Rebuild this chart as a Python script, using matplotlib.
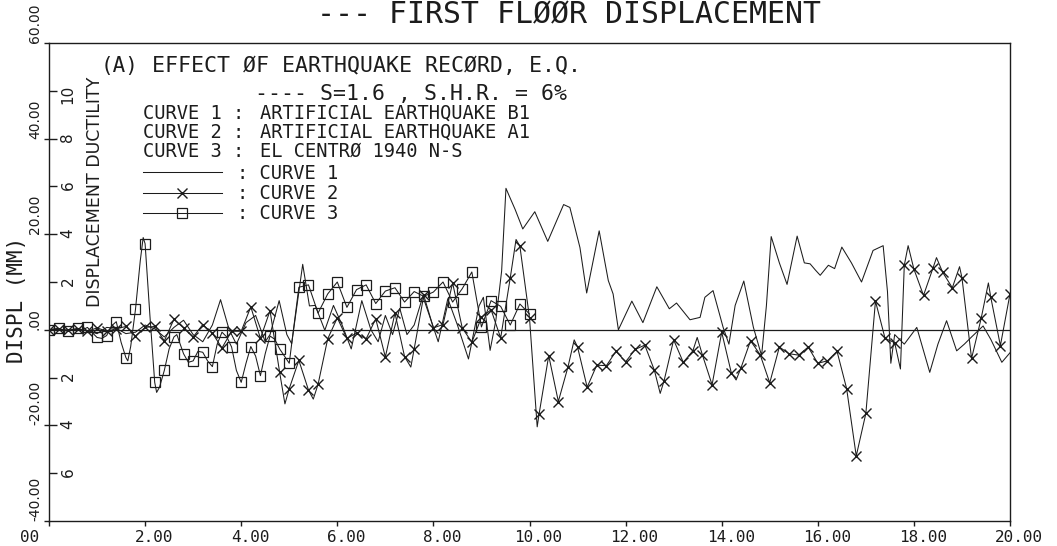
import numpy as np
import matplotlib
matplotlib.use("Agg")
import matplotlib.pyplot as plt
from matplotlib.transforms import ScaledTranslation

W, H = 1057, 546
INK = "#1c1c1c"
MONO = "DejaVu Sans Mono"

# ---- curve 1 : artificial earthquake B1 (time s, displacement mm)
t_b1 = [0.0, 0.2, 0.4, 0.6, 0.8, 1.0, 1.2, 1.4, 1.6, 1.8, 2.0, 2.2, 2.4, 2.6, 2.8,
        3.0, 3.2, 3.4, 3.57, 3.75, 3.9, 4.1, 4.3, 4.5, 4.6, 4.79, 4.95, 5.05, 5.28,
        5.42, 5.54, 5.74, 5.92, 6.1, 6.29, 6.51, 6.7, 6.85, 7.0, 7.15, 7.3, 7.45,
        7.6, 7.78, 7.95, 8.1, 8.3, 8.5, 8.73, 8.95, 9.04, 9.18, 9.3, 9.42, 9.51,
        9.6, 9.7, 9.86, 10.11,
        10.38, 10.71, 10.84, 11.05, 11.19, 11.45, 11.57, 11.64, 11.74, 11.85,
        12.13, 12.36, 12.65, 12.91, 13.06, 13.34, 13.55, 13.65, 13.82, 14.03,
        14.15, 14.28, 14.46, 14.66, 14.83, 14.93, 15.03, 15.2, 15.36, 15.57,
        15.72, 15.84, 15.95, 16.05, 16.22, 16.35, 16.5, 16.7, 16.91, 17.15,
        17.36, 17.45, 17.52, 17.6, 17.8, 18.06, 18.33, 18.5, 18.68, 18.89,
        19.05, 19.21, 19.44, 19.6, 19.83, 20.0]
d_b1 = [0.0, 0.1, -0.1, 0.1, -0.2, -0.8, 0.5, 0.3, -0.8, -0.5, 1.0, 0.2, -1.5, 0.5, 2.0,
        -1.0, -2.5, 1.0, 6.3, 0.0, -3.0, 1.5, 3.0, -2.5, -1.0, 6.1, -1.0, -2.9, 13.7,
        5.0, 5.1, -0.1, 5.1, 1.0, -4.0, 6.1, 0.0, -2.5, 3.0, -1.0, 4.5, -1.0,
        1.0, 7.0, 2.0, -2.5, 6.5, 1.0, -6.1, 5.0, 6.8, -4.3, 2.0, 12.3, 29.6,
        27.5, 25.2, 21.1, 24.7,
        18.5, 26.2, 25.6, 17.2, 7.7, 20.7, 14.1, 10.3, 7.5, 0.0,
        6.0, 1.5, 9.0, 4.4, 5.6, 2.1, 2.6, 6.8, 8.2, 0.5,
        -3.0, 5.1, 10.2, 0.5, -5.4, 5.0, 19.5, 14.0, 9.5, 19.6,
        14.0, 13.8, 12.5, 11.4, 13.5, 12.8, 17.3, 14.0, 10.0, 16.6,
        17.6, 8.0, -7.0, -1.0, -3.0, 0.5, -8.9, -3.0, 1.9, -4.4,
        -3.0, -1.4, 0.8, -2.0, -6.8, -4.8]

# ---- curve 2 : artificial earthquake A1
t_a1 = [0.0, 0.2, 0.4, 0.6, 0.8, 1.0, 1.2, 1.4, 1.6, 1.8, 2.0, 2.2, 2.4, 2.6, 2.8,
        3.0, 3.2, 3.4, 3.6, 3.8, 4.0, 4.2, 4.4, 4.6, 4.8, 4.91, 5.0, 5.2, 5.4,
        5.5, 5.6, 5.8, 6.0, 6.2, 6.4, 6.6, 6.8, 7.0, 7.2, 7.4, 7.53, 7.6, 7.8,
        8.0, 8.2, 8.4, 8.6, 8.8, 9.0, 9.2, 9.4, 9.6, 9.72, 9.8, 10.0, 10.16,
        10.2, 10.4, 10.6, 10.8, 10.93, 11.0, 11.2, 11.4, 11.6, 11.8, 12.0, 12.2,
        12.4, 12.6, 12.72, 12.8, 13.0, 13.2, 13.4, 13.49, 13.6, 13.8, 14.0, 14.2,
        14.3, 14.4, 14.6, 14.8, 15.0, 15.2, 15.4, 15.6, 15.8, 16.0, 16.2, 16.4,
        16.6, 16.8, 17.0, 17.2, 17.4, 17.6, 17.72, 17.8, 17.88, 18.0, 18.2, 18.4,
        18.47, 18.6, 18.8, 18.95, 19.0, 19.2, 19.4, 19.55, 19.6, 19.8, 20.0]
d_a1 = [0.0, 0.1, -0.1, 0.2, -0.3, 0.4, -0.3, 0.2, 0.7, -1.3, 0.5, 0.7, -2.3, 2.2, 0.4,
        -1.5, 1.1, -0.7, -3.8, -0.3, -0.3, 4.8, -1.8, 4.0, -8.9, -15.5, -12.3, -6.4, -12.6,
        -14.5, -11.4, -1.9, 2.5, -1.8, -0.7, -1.9, 2.3, -5.7, 3.5, -5.6, -7.8, -4.0, 7.2,
        0.4, 1.1, 9.8, 0.4, -2.6, 2.6, 4.2, -1.7, 10.9, 18.9, 17.5, 2.5, -20.3,
        -17.6, -5.4, -15.0, -7.8, -2.1, -3.6, -12.0, -7.4, -7.5, -4.5, -6.7, -4.1,
        -3.2, -8.5, -13.3, -10.7, -2.1, -6.8, -4.4, -1.6, -5.3, -11.5, -0.5, -9.0,
        -10.5, -8.0, -2.3, -5.2, -11.1, -3.6, -5.0, -5.3, -3.6, -7.0, -6.5, -4.5,
        -12.3, -26.4, -17.5, 6.0, -1.8, -2.7, -8.2, 13.5, 17.6, 12.7, 7.2, 13.0,
        15.1, 12.0, 8.8, 13.2, 10.9, -6.0, 2.4, 9.8, 6.8, -3.3, 7.5]

# ---- curve 3 : El Centro 1940 N-S
t_ec = [0.0, 0.1, 0.2, 0.3, 0.4, 0.5, 0.6, 0.7, 0.8, 0.9, 1.0, 1.1, 1.2, 1.3, 1.4,
        1.5, 1.6, 1.64, 1.7, 1.8, 1.9, 1.96, 2.0, 2.1, 2.2, 2.24, 2.3, 2.4, 2.5,
        2.6, 2.66, 2.8, 2.9, 3.0, 3.1, 3.2, 3.3, 3.4, 3.5, 3.6, 3.7, 3.8, 3.9,
        4.0, 4.1, 4.2, 4.3, 4.4, 4.5, 4.6, 4.7, 4.8, 4.9, 5.0, 5.1, 5.2,
        5.4, 5.6, 5.8, 6.0, 6.2, 6.4, 6.6, 6.8, 7.0, 7.2, 7.4, 7.6, 7.8, 8.0,
        8.2, 8.4, 8.6, 8.8, 9.0, 9.2, 9.4, 9.6, 9.8, 10.0]
d_ec = [0.0, 0.2, 0.3, -0.1, -0.3, 0.1, 0.3, 0.0, 0.5, -0.6, -1.6, -1.8, -1.2, 0.8, 1.7,
        -2.6, -5.8, -6.5, -3.5, 4.3, 14.5, 19.3, 18.0, 3.0, -11.0, -13.1, -12.0, -8.5, -4.0,
        -1.5, -1.0, -5.0, -6.8, -6.5, -4.5, -4.7, -6.5, -7.7, -3.0, -0.5, -1.5, -3.6, -8.5,
        -11.0, -7.0, -3.5, -5.5, -9.6, -5.0, -1.3, -2.0, -4.0, -5.5, -7.0, 1.0, 8.9,
        9.4, 3.5, 7.5, 10.0, 4.7, 8.4, 9.4, 5.5, 8.1, 8.8, 5.8, 8.0, 7.0, 7.9,
        10.0, 5.8, 8.6, 12.1, 0.6, 6.1, 4.9, 1.0, 5.4, 3.3]

x_ticks = [0, 2, 4, 6, 8, 10, 12, 14, 16, 18, 20]
x_tick_labels = ["00", "2.00", "4.00", "6.00", "8.00", "10.00",
                 "12.00", "14.00", "16.00", "18.00", "20.00"]
y_ticks = [-40, -20, 0, 20, 40, 60]
y_tick_labels = ["-40.00", "-20.00", ".00", "20.00", "40.00", "60.00"]
duct_ticks = [-6, -4, -2, 2, 4, 6, 8, 10]
duct_labels = ["6", "4", "2", "2", "4", "6", "8", "10"]
MM_PER_DUCTILITY = 5.0
MARK_STEP = 0.2


def grid_marks(ts, step=MARK_STEP):
    return [i for i, t in enumerate(ts) if abs(t / step - round(t / step)) < 1e-6]


def fx(px):
    return px / W


def fy(py):
    return 1 - py / H


fig = plt.figure(figsize=(W / 100, H / 100), dpi=100)
ax = fig.add_axes([fx(49), fy(521), (1010 - 49) / W, (521 - 43) / H])
ax.set_xlim(0, 20)
ax.set_ylim(-40, 60)

ax.axhline(0, color=INK, lw=0.9, zorder=1)

l1, = ax.plot(t_b1, d_b1, color=INK, lw=0.75, zorder=3)
l2, = ax.plot(t_a1, d_a1, color=INK, lw=0.75, marker="x", ms=6.5, mew=1.0,
              markevery=grid_marks(t_a1), zorder=3)
l3, = ax.plot(t_ec, d_ec, color=INK, lw=0.75, marker="s", ms=7, mew=0.9,
              mfc="none", markevery=grid_marks(t_ec), zorder=3)

for s in ax.spines.values():
    s.set_color(INK)
    s.set_linewidth(1.0)

ax.set_xticks(x_ticks, labels=x_tick_labels)
ax.set_yticks(y_ticks, labels=y_tick_labels)
ax.tick_params(axis="x", direction="out", length=3.6, width=1, colors=INK,
               labelsize=11.5, pad=3)
ax.tick_params(axis="y", direction="out", length=3.6, width=1, colors=INK,
               labelsize=10, pad=1.5, labelrotation=90)
for lab in ax.get_xticklabels():
    lab.set_family(MONO)
for i, lab in enumerate(ax.get_xticklabels()):
    dx = -19 if i == 0 else 9
    lab.set_transform(lab.get_transform() + ScaledTranslation(dx / 100, 0, fig.dpi_scale_trans))
for lab in ax.get_yticklabels():
    lab.set_family("DejaVu Sans")
    lab.set_va("bottom")

# displacement ductility scale, drawn inside the left spine
sec = ax.secondary_yaxis("left", functions=(lambda y: y / MM_PER_DUCTILITY,
                                            lambda d: d * MM_PER_DUCTILITY))
sec.set_yticks(duct_ticks, labels=duct_labels)
sec.tick_params(direction="in", length=6, width=1, colors=INK, labelsize=11,
                pad=-19, labelrotation=90)
sec.spines["left"].set_visible(False)

fig.text(fx(17), fy(300), "DISPL (MM)", rotation=90, ha="center", va="center",
         family=MONO, fontsize=15, color=INK)
fig.text(fx(95), fy(192), "DISPLACEMENT DUCTILITY", rotation=90, ha="center",
         va="center", family="DejaVu Sans", fontsize=12.5, color=INK)

fig.text(fx(569), fy(23), "--- FIRST FLØØR DISPLACEMENT", ha="center", va="baseline",
         family=MONO, fontsize=21.5, color=INK)
fig.text(fx(101), fy(72), "(A)", ha="left", va="baseline", family=MONO,
         fontsize=15, color=INK)
fig.text(fx(152), fy(72), "EFFECT ØF EARTHQUAKE RECØRD, E.Q.", ha="left",
         va="baseline", family=MONO, fontsize=15.5, color=INK)
fig.text(fx(255), fy(100), "---- S=1.6 , S.H.R. = 6%", ha="left", va="baseline",
         family=MONO, fontsize=15.5, color=INK)

rows = [("CURVE 1 :", "ARTIFICIAL EARTHQUAKE B1", 119),
        ("CURVE 2 :", "ARTIFICIAL EARTHQUAKE A1", 138),
        ("CURVE 3 :", "EL CENTRØ 1940 N-S", 157)]
for head, body, base in rows:
    fig.text(fx(143), fy(base), head, ha="left", va="baseline", family=MONO,
             fontsize=13.5, color=INK)
    fig.text(fx(260), fy(base), body, ha="left", va="baseline", family=MONO,
             fontsize=13.5, color=INK)

leg = ax.legend([l1, l2, l3], [": CURVE 1", ": CURVE 2", ": CURVE 3"],
                loc="upper left", bbox_to_anchor=((143 - 49) / 961, (521 - 164) / 478),
                frameon=False, borderpad=0, borderaxespad=0, handlelength=4.2,
                handletextpad=0.8, labelspacing=0.06, numpoints=1,
                prop={"family": MONO, "size": 13.5})
for txt in leg.get_texts():
    txt.set_color(INK)

fig.savefig("out.png", dpi=100, facecolor="white")
